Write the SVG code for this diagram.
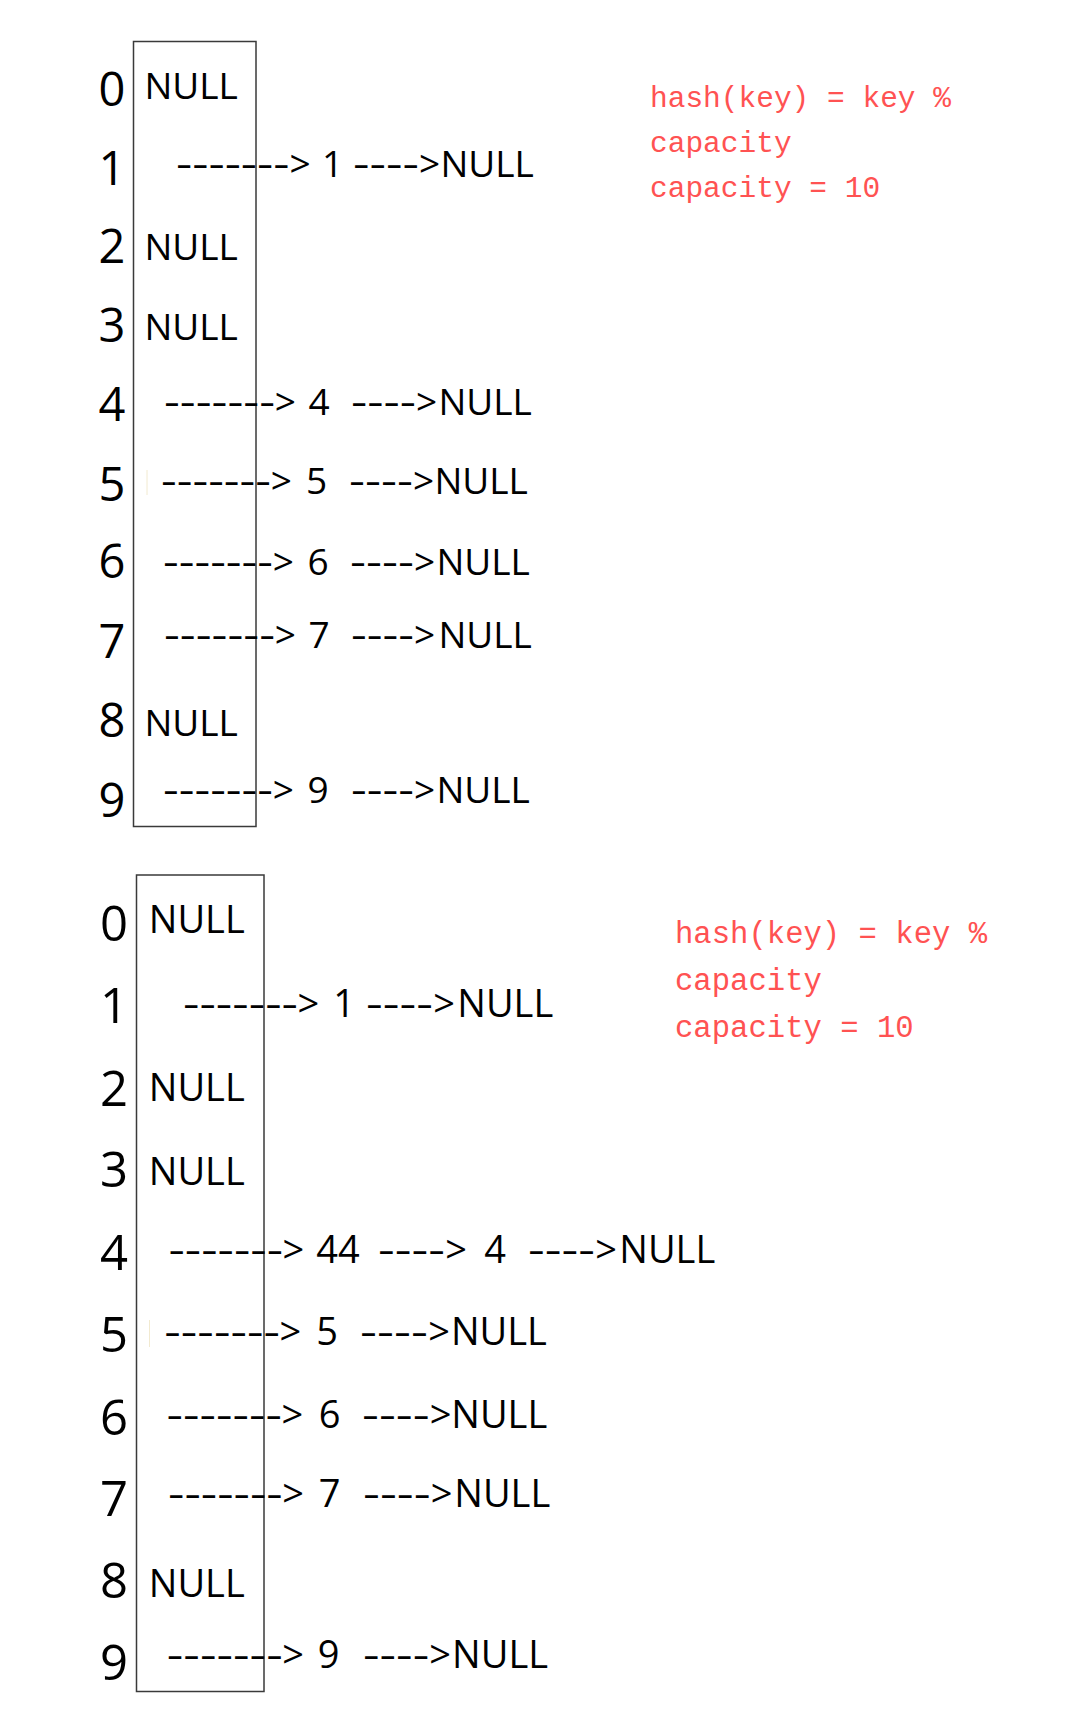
<svg xmlns="http://www.w3.org/2000/svg" width="1068" height="1716" viewBox="0 0 1068 1716">
<style>
.box{fill:none;stroke:#3a3a3a;stroke-width:1.5}
.i1{font-family:"Open Sans","Noto Sans",sans-serif;font-size:47px;text-anchor:middle;fill:#000}
.i2{font-family:"Open Sans","Noto Sans",sans-serif;font-size:49px;text-anchor:middle;fill:#000}
.t1{font-family:"Open Sans","Noto Sans",sans-serif;font-size:37px;fill:#000}
.t2{font-family:"Open Sans","Noto Sans",sans-serif;font-size:38px;fill:#000}
.m{text-anchor:middle}
.red1{font-family:"Liberation Mono","DejaVu Sans Mono",monospace;font-size:29.5px;fill:#ff5252}
.red2{font-family:"Liberation Mono","DejaVu Sans Mono",monospace;font-size:30.6px;fill:#ff5252}
.faint{stroke:#f2ead0;stroke-width:1}
</style>
<rect width="1068" height="1716" fill="#fff"/>

<!-- ===== Top table ===== -->
<g id="table1">
  <rect class="box" x="133.5" y="41.5" width="122.5" height="785"/>
  <line class="faint" x1="147" y1="470" x2="147" y2="495"/>
</g>
<g id="index1">
  <text class="i1" x="112" y="106">0</text>
  <text class="i1" x="112" y="185">1</text>
  <text class="i1" x="112" y="263">2</text>
  <text class="i1" x="112" y="342">3</text>
  <text class="i1" x="112" y="421">4</text>
  <text class="i1" x="112" y="501">5</text>
  <text class="i1" x="112" y="578">6</text>
  <text class="i1" x="112" y="658">7</text>
  <text class="i1" x="112" y="737">8</text>
  <text class="i1" x="112" y="817">9</text>
</g>
<g id="slots1">
  <text class="t1" x="144.4" y="99">NULL</text>
  <text class="t1" x="144.4" y="260">NULL</text>
  <text class="t1" x="144.4" y="340">NULL</text>
  <text class="t1" x="144.4" y="736">NULL</text>
</g>
<g id="nodes1">
  <text class="t1 m" x="332.5" y="177">1</text><text class="t1" x="440.4" y="177">NULL</text>
  <text class="t1 m" x="319" y="415">4</text><text class="t1" x="438.4" y="415">NULL</text>
  <text class="t1 m" x="316.5" y="494">5</text><text class="t1" x="434.4" y="494">NULL</text>
  <text class="t1 m" x="318" y="575">6</text><text class="t1" x="436.4" y="575">NULL</text>
  <text class="t1 m" x="319" y="648">7</text><text class="t1" x="438.4" y="648">NULL</text>
  <text class="t1 m" x="318" y="803">9</text><text class="t1" x="436.4" y="803">NULL</text>
</g>
<g id="connectors1">
  <text class="t1" x="176" y="177" textLength="113.5" lengthAdjust="spacingAndGlyphs">-------</text><text class="t1" x="289.4" y="177">&gt;</text>
  <text class="t1" x="353" y="177" textLength="66" lengthAdjust="spacingAndGlyphs">----</text><text class="t1" x="419.1" y="177">&gt;</text>

  <text class="t1" x="164" y="415" textLength="111" lengthAdjust="spacingAndGlyphs">-------</text><text class="t1" x="274.7" y="415">&gt;</text>
  <text class="t1" x="351" y="415" textLength="65" lengthAdjust="spacingAndGlyphs">----</text><text class="t1" x="416.1" y="415">&gt;</text>

  <text class="t1" x="161" y="494" textLength="110" lengthAdjust="spacingAndGlyphs">-------</text><text class="t1" x="270.7" y="494">&gt;</text>
  <text class="t1" x="349" y="494" textLength="64" lengthAdjust="spacingAndGlyphs">----</text><text class="t1" x="413.1" y="494">&gt;</text>

  <text class="t1" x="163" y="575" textLength="110" lengthAdjust="spacingAndGlyphs">-------</text><text class="t1" x="272.7" y="575">&gt;</text>
  <text class="t1" x="350" y="575" textLength="64" lengthAdjust="spacingAndGlyphs">----</text><text class="t1" x="414.1" y="575">&gt;</text>

  <text class="t1" x="164" y="648" textLength="111" lengthAdjust="spacingAndGlyphs">-------</text><text class="t1" x="274.7" y="648">&gt;</text>
  <text class="t1" x="351" y="648" textLength="63" lengthAdjust="spacingAndGlyphs">----</text><text class="t1" x="414.1" y="648">&gt;</text>

  <text class="t1" x="163" y="803" textLength="110" lengthAdjust="spacingAndGlyphs">-------</text><text class="t1" x="272.7" y="803">&gt;</text>
  <text class="t1" x="351" y="803" textLength="63" lengthAdjust="spacingAndGlyphs">----</text><text class="t1" x="414.1" y="803">&gt;</text>
</g>
<g id="formula1">
  <text class="red1" x="650" y="107">hash(key) = key %</text>
  <text class="red1" x="650" y="152">capacity</text>
  <text class="red1" x="650" y="197">capacity = 10</text>
</g>

<!-- ===== Bottom table ===== -->
<g id="table2">
  <rect class="box" x="136.5" y="875" width="127.5" height="816.5"/>
  <line class="faint" x1="149.5" y1="1320" x2="149.5" y2="1347"/>
</g>
<g id="index2">
  <text class="i2" x="114" y="941">0</text>
  <text class="i2" x="114" y="1023">1</text>
  <text class="i2" x="114" y="1106">2</text>
  <text class="i2" x="114" y="1187">3</text>
  <text class="i2" x="114" y="1270">4</text>
  <text class="i2" x="114" y="1352">5</text>
  <text class="i2" x="114" y="1435">6</text>
  <text class="i2" x="114" y="1516">7</text>
  <text class="i2" x="114" y="1598">8</text>
  <text class="i2" x="114" y="1680">9</text>
</g>
<g id="slots2">
  <text class="t2" x="148.8" y="933">NULL</text>
  <text class="t2" x="148.8" y="1100.7">NULL</text>
  <text class="t2" x="148.8" y="1185">NULL</text>
  <text class="t2" x="148.8" y="1596.7">NULL</text>
</g>
<g id="nodes2">
  <text class="t2 m" x="344" y="1016.7">1</text><text class="t2" x="457.3" y="1016.7">NULL</text>
  <text class="t2 m" x="338" y="1263">44</text><text class="t2 m" x="495" y="1263">4</text><text class="t2" x="619.3" y="1263">NULL</text>
  <text class="t2 m" x="327" y="1345">5</text><text class="t2" x="450.9" y="1345">NULL</text>
  <text class="t2 m" x="329.5" y="1428">6</text><text class="t2" x="451.3" y="1428">NULL</text>
  <text class="t2 m" x="329.5" y="1506.7">7</text><text class="t2" x="454.3" y="1506.7">NULL</text>
  <text class="t2 m" x="328.5" y="1668">9</text><text class="t2" x="452.1" y="1668">NULL</text>
</g>
<g id="connectors2">
  <text class="t2" x="183" y="1016.7" textLength="115" lengthAdjust="spacingAndGlyphs">-------</text><text class="t2" x="297.6" y="1016.7">&gt;</text>
  <text class="t2" x="366" y="1016.7" textLength="67" lengthAdjust="spacingAndGlyphs">----</text><text class="t2" x="433.2" y="1016.7">&gt;</text>

  <text class="t2" x="168.5" y="1263" textLength="114.5" lengthAdjust="spacingAndGlyphs">-------</text><text class="t2" x="282.6" y="1263">&gt;</text>
  <text class="t2" x="378" y="1263" textLength="67" lengthAdjust="spacingAndGlyphs">----</text><text class="t2" x="445.2" y="1263">&gt;</text>
  <text class="t2" x="528" y="1263" textLength="67" lengthAdjust="spacingAndGlyphs">----</text><text class="t2" x="595.2" y="1263">&gt;</text>

  <text class="t2" x="164.3" y="1345" textLength="115.7" lengthAdjust="spacingAndGlyphs">-------</text><text class="t2" x="279.6" y="1345">&gt;</text>
  <text class="t2" x="360" y="1345" textLength="68" lengthAdjust="spacingAndGlyphs">----</text><text class="t2" x="428.2" y="1345">&gt;</text>

  <text class="t2" x="166.4" y="1428" textLength="115.6" lengthAdjust="spacingAndGlyphs">-------</text><text class="t2" x="281.6" y="1428">&gt;</text>
  <text class="t2" x="362" y="1428" textLength="67.7" lengthAdjust="spacingAndGlyphs">----</text><text class="t2" x="429.7" y="1428">&gt;</text>

  <text class="t2" x="168" y="1506.7" textLength="114.7" lengthAdjust="spacingAndGlyphs">-------</text><text class="t2" x="282.3" y="1506.7">&gt;</text>
  <text class="t2" x="363" y="1506.7" textLength="67.7" lengthAdjust="spacingAndGlyphs">----</text><text class="t2" x="430.7" y="1506.7">&gt;</text>

  <text class="t2" x="166.8" y="1668" textLength="115.9" lengthAdjust="spacingAndGlyphs">-------</text><text class="t2" x="282.3" y="1668">&gt;</text>
  <text class="t2" x="363" y="1668" textLength="66.2" lengthAdjust="spacingAndGlyphs">----</text><text class="t2" x="429.2" y="1668">&gt;</text>
</g>
<g id="formula2">
  <text class="red2" x="675" y="943">hash(key) = key %</text>
  <text class="red2" x="675" y="990">capacity</text>
  <text class="red2" x="675" y="1036.5">capacity = 10</text>
</g>
</svg>
